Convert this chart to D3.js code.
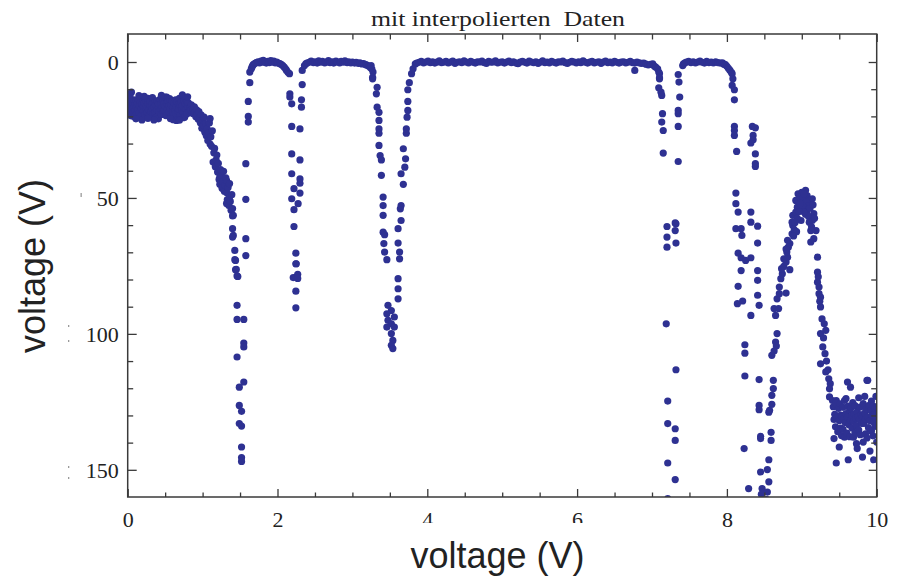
<!DOCTYPE html>
<html>
<head>
<meta charset="utf-8">
<script src="https://cdn.jsdelivr.net/npm/d3@7"></script>
<style>
  html, body { margin: 0; padding: 0; background: #fff; }
  svg { display: block; }
</style>
</head>
<body>
<svg id="chart" width="897" height="576"></svg>
<script>
// Measured samples, [voltage, voltage] pairs, grouped by stretch of the sweep.
const noisyStart = [
  [0.00,16.5],[0.00,18.2],[0.01,14.8],[0.01,19.5],[0.02,13.2],[0.02,17.1],[0.03,15.6],[0.03,18.9],[0.04,16.2],[0.05,11.1],
  [0.05,14.5],[0.05,19.8],[0.06,17.4],[0.07,15.1],[0.07,18.3],[0.08,13.9],[0.08,16.8],[0.09,20.1],[0.10,15.4],[0.10,17.9],
  [0.11,14.2],[0.12,16.6],[0.12,19.2],[0.13,15.0],[0.14,17.5],[0.14,13.6],[0.15,18.8],[0.16,16.1],[0.17,14.7],[0.17,19.9],
  [0.18,17.2],[0.19,21.3],[0.19,15.5],[0.20,13.8],[0.21,18.1],[0.21,16.4],[0.22,15.0],[0.23,19.4],[0.24,17.0],[0.24,14.1],
  [0.25,16.3],[0.26,18.6],[0.27,15.2],[0.27,13.4],[0.28,17.7],[0.29,19.6],[0.30,16.0],[0.30,14.6],[0.31,18.2],[0.32,15.7],
  [0.33,13.1],[0.33,17.3],[0.34,19.1],[0.35,16.5],[0.36,14.9],[0.36,18.7],[0.37,15.9],[0.38,20.4],[0.39,17.6],[0.39,14.3],
  [0.40,16.2],[0.41,20.9],[0.41,15.3],[0.42,18.4],[0.43,13.7],[0.44,17.1],[0.44,15.6],[0.45,19.3],[0.46,16.7],[0.47,14.0],
  [0.47,18.0],[0.48,15.4],[0.49,17.8],[0.50,12.9],[0.50,16.3],[0.51,19.7],[0.52,15.0],[0.52,12.9],[0.53,17.4],[0.54,14.4],
  [0.55,18.5],[0.55,16.0],[0.56,13.5],[0.57,17.0],[0.58,19.8],[0.58,15.8],[0.59,14.2],[0.60,18.3],[0.61,16.6],[0.61,21.2],
  [0.62,15.1],[0.63,17.9],[0.64,13.9],[0.64,19.0],[0.65,21.5],[0.65,16.2],[0.66,14.7],[0.67,18.1],[0.68,15.5],[0.68,17.3],
  [0.69,13.4],[0.70,19.5],[0.70,16.0],[0.71,14.8],[0.72,17.7],[0.73,12.1],[0.73,15.9],[0.74,18.6],[0.74,20.5],[0.75,14.3],
  [0.76,16.8],[0.76,20.3],[0.77,15.2],[0.78,17.5],[0.79,14.6],[0.79,19.1],[0.80,16.4],[0.81,15.0],[0.82,18.0],[0.83,16.9],
  [0.84,17.6],[0.85,15.8],[0.86,18.8],
  [0.03,12.2],[0.11,20.9],[0.22,12.6],[0.35,21.3],[0.45,12.3],[0.57,20.8],[0.69,21.4],[0.80,12.8],[0.27,20.7],[0.15,12.4]
];

const firstFall = [
  [0.87,17.2],[0.88,19.0],[0.89,16.5],[0.90,18.4],[0.91,20.1],[0.92,17.6],[0.93,19.3],[0.94,21.0],[0.95,18.2],[0.96,20.6],
  [0.97,22.3],[0.98,19.4],[0.99,24.4],[1.00,21.5],[1.01,23.2],[1.02,20.3],[1.03,25.8],[1.04,22.7],[1.05,27.1],[1.06,24.5],
  [1.07,28.9],[1.08,26.0],[1.09,22.4],[1.10,20.8],[1.10,30.2],[1.11,27.5],[1.12,31.0],[1.13,25.3],[1.14,36.8],[1.15,33.4],
  [1.16,31.8],[1.17,38.5],[1.18,36.0],[1.19,34.2],[1.20,40.5],[1.21,37.3],[1.22,43.2],[1.23,42.3],[1.23,45.0],[1.24,39.6],
  [1.25,41.8],[1.26,46.4],[1.27,44.1],[1.28,40.2],[1.29,47.5],[1.30,45.3],[1.31,42.6],[1.32,43.6],[1.32,48.0],[1.33,50.6],
  [1.32,52.0],[1.34,46.2],[1.35,52.8],[1.36,44.7],[1.36,49.7],[1.37,51.3],[1.38,54.5],[1.39,48.8],[1.40,53.9],[1.40,56.6],
  [1.41,56.4],[1.40,61.3],[1.41,63.8],[1.40,64.4],[1.43,69.3],[1.43,72.7],[1.44,73.0],[1.44,76.4],[1.45,76.3],[1.46,78.7],
  [1.47,78.9],[1.46,89.5],[1.46,94.7],[1.55,94.7],[1.55,103.4],[1.55,104.8],[1.46,108.5],[1.55,117.7],[1.49,119.6],
  [1.49,126.3],[1.52,128.5],[1.49,133.0],[1.52,133.9],[1.52,141.6],[1.52,145.5],[1.52,146.9],
  [1.577,71.2],[1.577,65.0],[1.577,50.5],[1.577,37.4],[1.61,22.1],[1.61,20.0],[1.61,14.5],[1.63,7.6],[1.63,3.7],[1.65,2.5]
];

const plateauA = [
  [1.66,1.8],[1.67,1.2],[1.68,0.9],[1.70,0.5],[1.72,0.2],[1.74,-0.1],[1.76,0.3],[1.78,-0.3],[1.80,0.1],[1.81,-0.6],
  [1.83,0.0],[1.85,0.4],[1.87,-0.2],[1.89,0.2],[1.91,-0.5],[1.93,0.1],[1.95,-0.3],[1.97,0.3],[1.99,0.0],[2.01,0.4],
  [2.03,0.6],[2.05,0.9],[2.07,1.3],[2.09,1.9],[2.11,2.6],[2.12,3.1],[2.14,3.8],[2.16,4.3]
];

const dipB = [
  [2.165,11.7],[2.165,12.9],[2.19,15.4],[2.19,23.7],[2.19,33.8],[2.19,41.1],[2.22,46.6],[2.19,50.3],[2.22,54.3],[2.22,60.5],
  [2.245,70.3],[2.25,74.2],[2.25,79.1],[2.245,74.2],[2.27,78.1],[2.21,79.3],[2.27,79.6],[2.245,84.3],[2.245,90.4],
  [2.275,52.1],[2.30,48.2],[2.30,44.6],[2.30,43.0],[2.30,36.0],[2.30,24.6],[2.32,16.6],[2.32,13.9],[2.33,8.3],[2.33,3.1],
  [2.36,1.3],[2.38,0.6]
];

const plateauB = [
  [2.40,0.3],[2.43,0.0],[2.45,-0.3],[2.48,0.2],[2.50,-0.1],[2.53,0.4],[2.55,-0.4],[2.58,0.1],[2.60,-0.2],[2.63,0.3],
  [2.65,0.0],[2.68,-0.5],[2.70,0.2],[2.73,-0.1],[2.75,0.4],[2.78,-0.3],[2.80,0.0],[2.83,0.3],[2.85,-0.2],[2.88,0.1],
  [2.90,-0.4],[2.93,0.2],[2.95,-0.1],[2.98,0.3],[3.00,0.0],[3.03,0.4],[3.05,0.1],[3.08,0.5],[3.10,0.3],[3.13,0.7],
  [3.15,0.6],[3.18,1.0],[3.20,1.2],[3.22,1.6],[3.24,2.0],[3.25,1.3],[3.26,2.6],[3.275,3.7],[3.27,5.6],[3.27,6.2]
];

const dipC = [
  [3.33,9.3],[3.32,11.7],[3.33,16.6],[3.355,18.5],[3.355,21.5],[3.355,24.6],[3.355,26.2],[3.355,30.7],[3.37,34.4],[3.387,36.0],
  [3.387,41.7],[3.41,49.7],[3.41,52.8],[3.41,56.4],[3.41,62.6],[3.43,63.5],[3.42,66.8],[3.43,69.9],[3.46,72.7],
  [3.475,89.5],[3.52,91.4],[3.46,92.6],[3.56,93.8],[3.475,95.0],[3.52,96.3],[3.46,97.5],[3.56,97.5],[3.52,99.9],[3.54,102.4],
  [3.52,104.2],[3.54,105.4],
  [3.61,87.1],[3.61,83.4],[3.61,79.7],[3.63,72.4],[3.63,69.9],[3.61,66.6],[3.61,61.3],[3.65,58.3],[3.64,54.0],[3.65,52.8],
  [3.68,45.0],[3.65,41.1],[3.70,38.7],[3.71,35.6],[3.68,31.9],[3.72,26.2],[3.72,24.6],[3.73,20.3],[3.74,17.8],[3.74,14.5],
  [3.74,10.2],[3.76,7.6],[3.79,4.3],[3.81,2.5],[3.84,0.7]
];

const plateauC = [
  [3.86,0.4],[3.89,0.1],[3.92,-0.2],[3.95,0.3],[3.98,0.0],[4.01,-0.3],[4.04,0.2],[4.07,-0.1],[4.10,0.4],[4.13,0.0],
  [4.16,-0.4],[4.19,0.2],[4.22,0.1],[4.25,-0.2],[4.28,0.3],[4.31,0.0],[4.34,-0.3],[4.37,0.5],[4.40,0.1],[4.43,-0.1],
  [4.46,0.2],[4.49,-0.4],[4.52,0.0],[4.55,0.3],[4.58,-0.2],[4.61,0.1],[4.64,0.4],[4.67,-0.1],[4.70,0.0],[4.73,-0.3],
  [4.76,0.2],[4.79,0.5],[4.82,-0.2],[4.85,0.1],[4.88,0.0],[4.91,-0.4],[4.94,0.3],[4.97,0.1],[5.00,-0.1],[5.03,0.4],
  [5.06,0.0],[5.09,-0.3],[5.12,0.2],[5.15,-0.1],[5.18,0.3],[5.21,0.6],[5.24,0.0],[5.27,-0.2],[5.30,0.1],[5.33,0.4],
  [5.36,-0.3],[5.39,0.0],[5.42,0.2],[5.45,-0.1],[5.48,0.5],[5.51,0.1],[5.54,-0.4],[5.57,0.2],[5.60,0.0],[5.63,0.3],
  [5.66,-0.2],[5.69,0.1],[5.72,0.4],[5.75,-0.1],[5.78,0.0],[5.81,-0.3],[5.84,0.2],[5.87,0.5],[5.90,0.1],[5.93,-0.2],
  [5.96,0.0],[5.99,0.3],[6.02,-0.1],[6.05,0.2],[6.08,-0.4],[6.11,0.1],[6.14,0.4],[6.17,0.0],[6.20,-0.2],[6.23,0.3],
  [6.26,0.1],[6.29,-0.1],[6.32,0.5],[6.35,0.0],[6.38,-0.3],[6.41,0.2],[6.44,0.0],[6.47,0.3],[6.50,-0.2],[6.53,0.1],
  [6.56,0.4],[6.59,0.0],[6.62,-0.1],[6.65,0.3],[6.68,0.1],[6.71,-0.2],[6.74,0.2],[6.77,3.1],[6.77,0.4],[6.80,0.0],
  [6.83,0.3],[6.86,0.5],[6.89,0.4],[6.92,0.8],[6.95,1.1],[6.98,0.9],[7.01,0.7],[7.03,1.5],[7.05,1.9],[7.075,2.5],
  [7.09,3.7],[7.10,4.3],[7.10,6.2],[7.10,5.8]
];

const dipD = [
  [7.09,9.5],[7.12,11.1],[7.13,12.3],[7.14,19.0],[7.13,22.1],[7.15,25.2],[7.15,33.5],
  [7.20,60.5],[7.20,64.4],[7.20,68.1],[7.19,96.3],[7.21,124.7],[7.21,133.0],[7.21,147.5],[7.21,160.6],
  [7.31,59.2],[7.32,59.5],[7.31,62.0],[7.32,66.6],[7.32,113.2],[7.31,134.9],[7.31,139.2],[7.31,153.6],
  [7.35,36.6],[7.35,23.7],[7.35,19.0],[7.35,17.8],[7.37,12.9],[7.36,7.4],[7.35,4.6]
];

const plateauD = [
  [7.41,1.3],[7.42,0.7],[7.44,0.3],[7.46,0.0],[7.49,-0.2],[7.52,0.2],[7.55,-0.1],[7.58,0.3],[7.61,0.0],[7.64,-0.3],
  [7.67,0.1],[7.70,0.4],[7.73,-0.2],[7.76,0.2],[7.79,0.0],[7.82,0.3],[7.85,-0.1],[7.88,0.2],[7.91,0.4],[7.94,0.3],
  [7.96,0.8],[7.98,1.0],[8.00,1.6],[8.02,2.3],[8.04,3.0],[8.06,3.8],[8.07,4.3],[8.08,6.2],[8.07,8.6],[8.10,10.2],
  [8.10,13.9]
];

const scatteredTail = [
  [8.10,23.7],[8.10,25.2],[8.10,27.0],[8.13,32.9],[8.12,48.2],[8.12,52.1],[8.15,55.2],[8.12,61.3],[8.19,61.3],[8.20,63.8],
  [8.15,70.3],[8.19,72.0],[8.25,73.0],[8.19,76.7],[8.15,82.5],[8.14,88.9],[8.21,87.9],[8.24,104.0],[8.24,107.1],[8.24,115.5],
  [8.23,142.2],[8.29,156.9],
  [8.34,23.7],[8.38,24.2],[8.35,27.0],[8.35,28.6],[8.32,29.8],[8.38,33.8],[8.38,37.4],[8.38,38.4],[8.32,55.2],[8.32,58.9],
  [8.41,60.4],[8.41,66.6],[8.32,72.0],[8.41,76.7],[8.41,80.3],[8.41,85.8],[8.43,89.5],[8.32,93.2],[8.43,116.8],[8.43,126.3],
  [8.43,127.9],[8.45,137.7],[8.45,138.5],[8.45,150.8],[8.47,156.9],[8.46,159.0],[8.54,158.2],[8.53,161.0],[8.54,149.9],
  [8.56,154.4],[8.56,146.3],[8.59,136.2],[8.59,139.2],[8.56,128.8]
];

const peakRegion = [
  [8.57,128.1],[8.60,125.9],[8.60,122.6],[8.62,120.1],[8.62,117.1],[8.60,107.9],[8.63,106.3],[8.65,103.0],[8.66,104.5],[8.67,99.9],
  [8.65,93.2],[8.63,90.7],[8.69,90.7],[8.67,87.1],[8.70,85.2],[8.79,85.0],[8.70,82.8],[8.72,79.7],[8.74,77.9],[8.73,76.0],
  [8.76,75.2],[8.84,76.4],[8.79,73.6],[8.76,72.4],[8.81,71.8],[8.80,69.9],[8.82,68.1],[8.79,68.8],[8.84,66.8],[8.81,65.6],
  [8.87,63.2],[8.90,61.7],[8.88,60.1],[8.87,58.9],[8.88,56.4],[8.92,55.2],[8.94,53.4],[8.92,50.9],[8.95,48.5],[9.00,47.9],
  [9.05,47.2],[9.07,49.1],[8.99,50.9],[9.04,52.1],[9.10,50.9],[9.14,50.3],[9.00,54.6],[9.07,54.6],[9.16,55.8],[9.14,58.3],
  [8.99,58.3],[9.12,62.0],[9.19,62.0],[9.16,65.0],[9.12,66.2],
  [8.97,49.5],[9.02,50.0],[9.03,48.5],[9.06,51.5],[9.08,53.0],[9.01,52.8],[8.98,52.0],[9.05,56.0],[9.09,56.8],[9.03,55.2],
  [9.11,53.8],[8.96,55.0],[8.94,57.5],[9.10,58.9],[9.13,60.6],[8.91,59.0],[9.15,52.5],[8.93,62.4],[8.89,64.0],[9.17,57.5],
  [9.21,71.8],[9.21,77.3],[9.21,81.0],[9.23,82.8],[9.23,85.2],[9.25,86.5],[9.25,90.1],[9.30,96.3],[9.32,98.7],[9.25,99.9],
  [9.28,104.8],[9.31,107.3],[9.25,111.0],[9.32,114.0],[9.36,116.5],[9.38,118.3],[9.37,120.2],[9.37,123.2],[9.41,124.5],[9.46,124.5],
  [9.22,79.0],[9.24,88.0],[9.27,94.5],[9.29,101.5],[9.33,110.0],[9.35,113.2]
];

const noisyEnd = [
  [9.42,126.8],[9.43,131.5],[9.43,138.5],[9.44,129.6],[9.45,134.2],[9.46,147.5],[9.46,125.4],[9.47,130.8],[9.48,136.0],[9.49,127.4],
  [9.49,134.9],[9.50,141.6],[9.50,131.9],[9.51,125.7],[9.52,134.7],[9.52,129.9],[9.53,137.4],[9.54,130.5],[9.55,127.0],[9.55,135.1],
  [9.56,131.2],[9.57,124.5],[9.57,138.0],[9.58,132.6],[9.59,123.8],[9.59,129.3],[9.60,136.5],[9.61,117.7],[9.61,130.7],[9.62,146.3],
  [9.62,126.6],[9.63,133.4],[9.64,128.0],[9.64,137.8],[9.65,119.6],[9.65,131.8],[9.66,127.2],[9.67,134.6],[9.67,130.1],[9.68,125.3],
  [9.69,138.0],[9.69,132.2],[9.70,129.5],[9.71,136.3],[9.71,126.4],[9.72,131.0],[9.73,140.4],[9.73,133.8],[9.74,142.2],[9.74,128.7],
  [9.75,130.4],[9.76,123.5],[9.76,135.4],[9.77,131.6],[9.78,126.9],[9.78,137.1],[9.79,129.8],[9.80,133.0],[9.81,145.3],[9.81,130.3],
  [9.82,139.8],[9.82,125.6],[9.83,132.9],[9.84,123.0],[9.84,129.1],[9.85,136.8],[9.85,131.4],[9.86,127.6],[9.87,117.1],[9.87,138.3],
  [9.88,117.1],[9.88,130.6],[9.89,134.5],[9.90,126.3],[9.91,143.1],[9.91,131.9],[9.92,128.2],[9.93,124.7],[9.93,135.7],[9.94,130.0],
  [9.95,126.5],[9.95,137.5],[9.96,146.3],[9.96,132.4],[9.97,129.6],[9.98,134.0],[9.98,127.3],[9.99,123.0],[9.99,131.1],[10.00,133.6],
  [10.00,139.8],[10.00,126.9]
];

const xMajorTicks = [0, 2, 4, 6, 8, 10];
const xMinorTicks = [0.5, 1, 1.5, 2.5, 3, 3.5, 4.5, 5, 5.5, 6.5, 7, 7.5, 8.5, 9, 9.5];
const yMajorTicks = [0, 50, 100, 150];
const yMinorTicks = [10, 20, 30, 40, 60, 70, 80, 90, 110, 120, 130, 140];

const chartTitle = "mit interpolierten\u00a0\u00a0Daten";
const xAxisTitle = "voltage (V)";
const yAxisTitle = "voltage (V)";

const allPoints = [].concat(noisyStart, firstFall, plateauA, dipB, plateauB, dipC,
                            plateauC, dipD, plateauD, scatteredTail, peakRegion, noisyEnd);

// ---- layout ----
const svg = d3.select("#chart");
const plot = { left: 127.7, right: 876.7, top: 34, bottom: 497 };
const serif = "'Liberation Serif', 'Times New Roman', Times, serif";
const sans = "'Liberation Sans', Arial, Helvetica, sans-serif";
const axisColor = "#3a3a3a";
const dotColor = "#2e3192";

const x = d3.scaleLinear().domain([0, 10]).range([plot.left, plot.right]);
const y = d3.scaleLinear().domain([-10.3, 160]).range([plot.top, plot.bottom]);

svg.append("defs").append("clipPath").attr("id", "plot-clip")
  .append("rect")
  .attr("x", plot.left).attr("y", plot.top)
  .attr("width", plot.right - plot.left).attr("height", plot.bottom - plot.top);

// ---- data points ----
svg.append("g").attr("clip-path", "url(#plot-clip)")
  .selectAll("circle").data(allPoints).join("circle")
  .attr("cx", d => x(d[0]))
  .attr("cy", d => y(d[1]))
  .attr("r", 3.6)
  .attr("fill", dotColor);

// ---- axes (ticks point inward on all four sides) ----
function styleAxis(g) {
  g.select(".domain").remove();
  g.selectAll(".tick line").attr("stroke", axisColor).attr("stroke-width", 1.3);
  g.selectAll("text").attr("fill", "#222").style("font-family", serif).style("font-size", "22px");
}

svg.append("g").attr("transform", `translate(0,${plot.bottom})`)
  .call(d3.axisBottom(x).tickValues(xMajorTicks).tickSize(-8).tickPadding(0).tickFormat(d3.format("d")))
  .call(styleAxis)
  .call(g => g.selectAll("text").attr("y", 30).attr("dy", null));
svg.append("g").attr("transform", `translate(0,${plot.bottom})`)
  .call(d3.axisBottom(x).tickValues(xMinorTicks).tickSize(-4.5).tickFormat(""))
  .call(styleAxis);
svg.append("g").attr("transform", `translate(0,${plot.top})`)
  .call(d3.axisTop(x).tickValues(xMajorTicks).tickSize(-8).tickFormat(""))
  .call(styleAxis);
svg.append("g").attr("transform", `translate(0,${plot.top})`)
  .call(d3.axisTop(x).tickValues(xMinorTicks).tickSize(-5.5).tickFormat(""))
  .call(styleAxis);

svg.append("g").attr("transform", `translate(${plot.left},0)`)
  .call(d3.axisLeft(y).tickValues(yMajorTicks).tickSize(-9).tickPadding(9).tickFormat(d3.format("d")))
  .call(styleAxis)
  .call(g => g.selectAll("text").attr("dy", "0.33em"));
svg.append("g").attr("transform", `translate(${plot.left},0)`)
  .call(d3.axisLeft(y).tickValues(yMinorTicks).tickSize(-5.5).tickFormat(""))
  .call(styleAxis);
svg.append("g").attr("transform", `translate(${plot.right},0)`)
  .call(d3.axisRight(y).tickValues(yMajorTicks).tickSize(-8).tickFormat(""))
  .call(styleAxis);
svg.append("g").attr("transform", `translate(${plot.right},0)`)
  .call(d3.axisRight(y).tickValues(yMinorTicks).tickSize(-5.5).tickFormat(""))
  .call(styleAxis);

// frame
svg.append("rect")
  .attr("x", plot.left).attr("y", plot.top)
  .attr("width", plot.right - plot.left).attr("height", plot.bottom - plot.top)
  .attr("fill", "none").attr("stroke", axisColor).attr("stroke-width", 1.5);

// small leftover marks beside the y tick labels
const stubMarks = [[80.5, 193, 1.3, 4], [68, 325, 1.3, 2], [68, 340, 1.3, 2], [68, 466, 1.3, 2], [68, 477, 1.3, 2]];
svg.append("g").selectAll("rect").data(stubMarks).join("rect")
  .attr("x", d => d[0]).attr("y", d => d[1]).attr("width", d => d[2]).attr("height", d => d[3])
  .attr("fill", "#9a9a9a");

// ---- titles ----
svg.append("text")
  .attr("x", 371).attr("y", 26)
  .attr("textLength", 254).attr("lengthAdjust", "spacingAndGlyphs")
  .style("font-family", serif).style("font-size", "21px").attr("fill", "#222")
  .text(chartTitle);

// x-axis title sits on a white box that hides the lower edge of nearby tick labels
svg.append("rect").attr("x", 404).attr("y", 523).attr("width", 188).attr("height", 53).attr("fill", "#fff");
svg.append("text")
  .attr("x", 497.5).attr("y", 568).attr("text-anchor", "middle")
  .style("font-family", sans).style("font-size", "36px").attr("fill", "#222")
  .text(xAxisTitle);

svg.append("text")
  .attr("transform", "translate(45,266) rotate(-90)").attr("text-anchor", "middle")
  .style("font-family", sans).style("font-size", "36px").attr("fill", "#222")
  .text(yAxisTitle);
</script>
</body>
</html>
